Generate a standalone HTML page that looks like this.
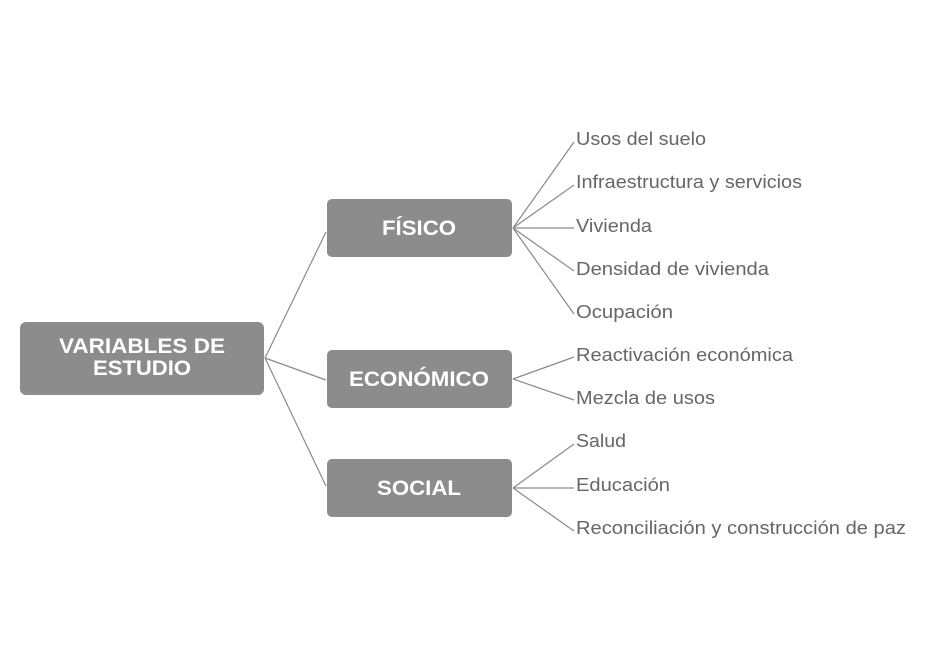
<!DOCTYPE html>
<html><head><meta charset="utf-8"><style>
body{margin:0;background:#fff;}
svg text{font-family:"Liberation Sans",sans-serif;}
</style></head><body>
<svg width="926" height="667" viewBox="0 0 926 667" xmlns="http://www.w3.org/2000/svg">
<g stroke="#8a8a8a" stroke-width="1.2" fill="none">
<line x1="265" y1="358" x2="326" y2="232"/>
<line x1="265" y1="358" x2="326" y2="380"/>
<line x1="265" y1="358" x2="326" y2="486"/>
<line x1="513" y1="228" x2="574" y2="142"/>
<line x1="513" y1="228" x2="574" y2="185"/>
<line x1="513" y1="228" x2="574" y2="228"/>
<line x1="513" y1="228" x2="574" y2="271"/>
<line x1="513" y1="228" x2="574" y2="314"/>
<line x1="513" y1="379" x2="574" y2="357"/>
<line x1="513" y1="379" x2="574" y2="400"/>
<line x1="513" y1="488" x2="574" y2="444"/>
<line x1="513" y1="488" x2="574" y2="488"/>
<line x1="513" y1="488" x2="574" y2="531"/>
</g>
<g fill="#8c8c8c">
<rect x="20" y="322" width="244" height="73" rx="6"/>
<rect x="327" y="199" width="185" height="58" rx="5"/>
<rect x="327" y="350" width="185" height="58" rx="5"/>
<rect x="327" y="459" width="185" height="58" rx="5"/>
</g>
<g fill="#fff" font-weight="bold" font-size="21" text-anchor="middle">
<text x="142" y="353" textLength="166" lengthAdjust="spacingAndGlyphs">VARIABLES DE</text>
<text x="142" y="375" textLength="98" lengthAdjust="spacingAndGlyphs">ESTUDIO</text>
<text x="419" y="235" textLength="74" lengthAdjust="spacingAndGlyphs">FÍSICO</text>
<text x="419" y="386" textLength="140" lengthAdjust="spacingAndGlyphs">ECONÓMICO</text>
<text x="419" y="495" textLength="84" lengthAdjust="spacingAndGlyphs">SOCIAL</text>
</g>
<g fill="#666" font-size="18.5">
<text x="576" y="145" textLength="130" lengthAdjust="spacingAndGlyphs">Usos del suelo</text>
<text x="576" y="188" textLength="226" lengthAdjust="spacingAndGlyphs">Infraestructura y servicios</text>
<text x="576" y="232" textLength="76" lengthAdjust="spacingAndGlyphs">Vivienda</text>
<text x="576" y="275" textLength="193" lengthAdjust="spacingAndGlyphs">Densidad de vivienda</text>
<text x="576" y="318" textLength="97" lengthAdjust="spacingAndGlyphs">Ocupación</text>
<text x="576" y="361" textLength="217" lengthAdjust="spacingAndGlyphs">Reactivación económica</text>
<text x="576" y="404" textLength="139" lengthAdjust="spacingAndGlyphs">Mezcla de usos</text>
<text x="576" y="447" textLength="50" lengthAdjust="spacingAndGlyphs">Salud</text>
<text x="576" y="491" textLength="94" lengthAdjust="spacingAndGlyphs">Educación</text>
<text x="576" y="534" textLength="330" lengthAdjust="spacingAndGlyphs">Reconciliación y construcción de paz</text>
</g>
</svg>
</body></html>
